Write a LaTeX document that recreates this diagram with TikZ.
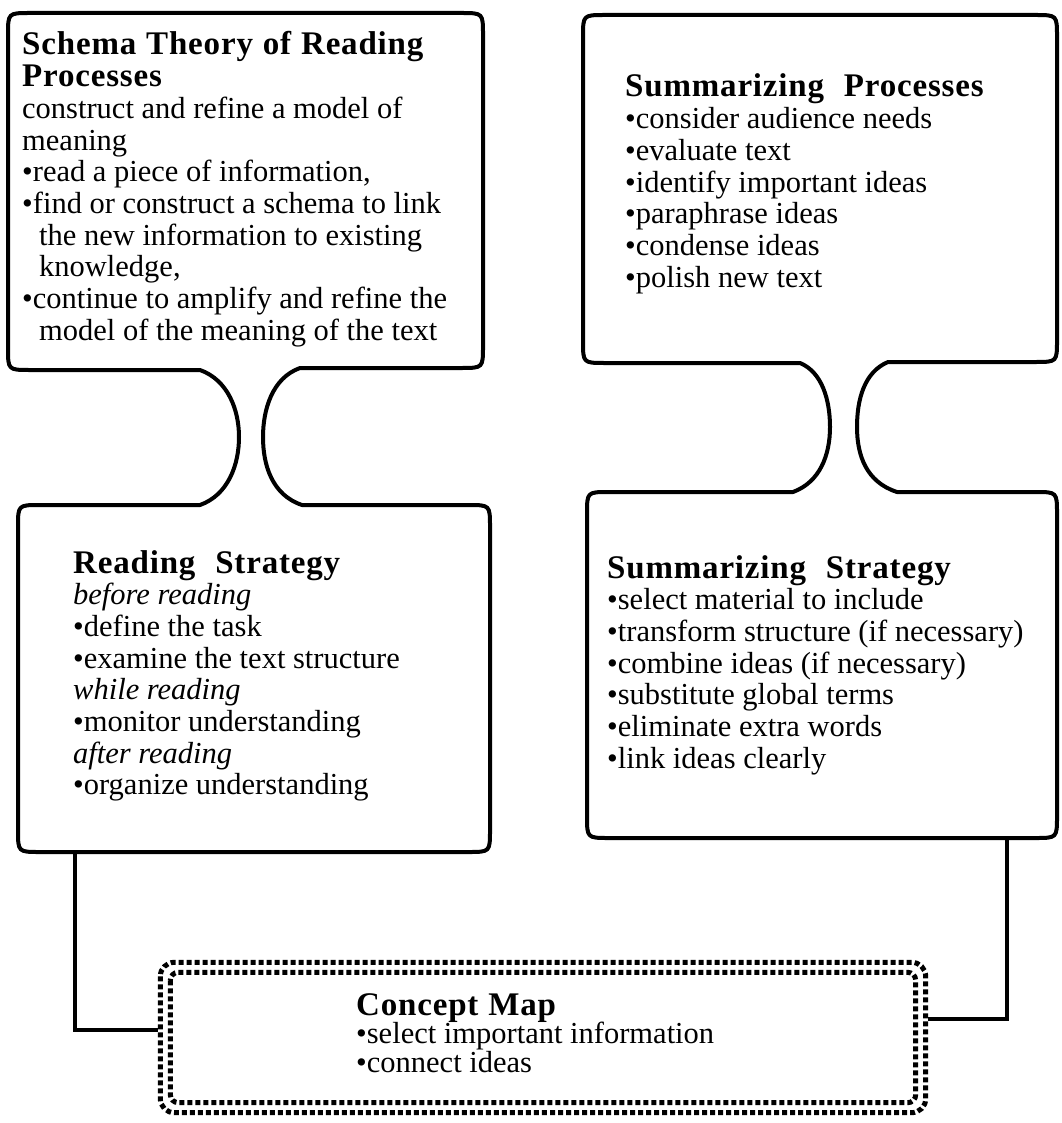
\documentclass[tikz,border=0pt]{standalone}
\usepackage{fontspec}
\setmainfont{Liberation Serif}
\newfontfamily\hfont[LetterSpace=2.5]{Liberation Serif}
\newcommand\bodyfont{\fontsize{30.5}{31.7}\selectfont}
\newcommand\hd[1]{{\hfont\bfseries\fontsize{33}{31.7}\selectfont #1}}
\newcommand\wsp{\hspace{0.3em}}
\begin{document}
\begin{tikzpicture}[x=1pt,y=-1pt,
  outline/.style={draw=black, line width=4pt, line join=round},
  link/.style={draw=black, line width=4pt},
  area/.style={draw=none, inner sep=0pt, rectangle},
  txt/.style={anchor=base west, inner sep=0pt, font=\bodyfont},
  dotrow/.style={draw=black, line width=5pt, dash pattern=on 5pt off 3pt, rounded corners=14pt}
]
\useasboundingbox (0,0) rectangle (1061,1123);
\fill[white] (0,0) rectangle (1061,1123);

% left pair outline (Schema Theory + Reading Strategy)
\draw[outline] (200,370) -- (30,370) .. controls (8,370) .. (8,348) -- (8,35)
  .. controls (8,13) .. (30,13) -- (461,13) .. controls (483,13) .. (483,35)
  -- (483,346) .. controls (483,368) .. (461,368) -- (300,368)
  .. controls (272,378) and (263,410) .. (263,437)
  .. controls (263,465) and (272,495) .. (302,505)
  -- (468,505) .. controls (490,505) .. (490,527) -- (490,830)
  .. controls (490,852) .. (468,852) -- (40,852) .. controls (18,852) .. (18,830)
  -- (18,527) .. controls (18,505) .. (40,505) -- (200,505)
  .. controls (228,495) and (239,465) .. (239,437)
  .. controls (239,410) and (228,380) .. (200,370) -- cycle;

% right pair outline (Summarizing Processes + Summarizing Strategy)
\draw[outline] (800,363) -- (605,363) .. controls (583,363) .. (583,341) -- (583,37)
  .. controls (583,15) .. (605,15) -- (1035,15) .. controls (1057,15) .. (1057,37)
  -- (1057,340) .. controls (1057,362) .. (1035,362) -- (888,362)
  .. controls (864,372) and (857,400) .. (857,427)
  .. controls (857,455) and (866,482) .. (897,492)
  -- (1035,492) .. controls (1057,492) .. (1057,514) -- (1057,816)
  .. controls (1057,838) .. (1035,838) -- (609,838) .. controls (587,838) .. (587,816)
  -- (587,514) .. controls (587,492) .. (609,492) -- (793,492)
  .. controls (820,482) and (830,455) .. (830,427)
  .. controls (830,400) and (822,372) .. (800,363) -- cycle;

% box areas
\node[area, minimum width=475pt, minimum height=357pt] (stbox) at (245.5,191.5) {};
\node[area, minimum width=474pt, minimum height=348pt] (spbox) at (820,189) {};
\node[area, minimum width=472pt, minimum height=347pt] (rsbox) at (254,678.5) {};
\node[area, minimum width=470pt, minimum height=346pt] (ssbox) at (822,665) {};
\node[area, minimum width=770pt, minimum height=155pt] (cm) at (543,1037.5) {};

% concept map dotted border
\draw[dotrow] ([shift={(2.5pt,-2.5pt)}]cm.north west) rectangle ([shift={(-2.5pt,2.5pt)}]cm.south east);
\draw[dotrow, rounded corners=8pt] ([shift={(12.5pt,-12.5pt)}]cm.north west) rectangle ([shift={(-12.5pt,12.5pt)}]cm.south east);

% texts
\node[txt] (schema) at (22,55) {\begin{tabular}[t]{@{}l@{}}
\hd{Schema\wsp Theory\wsp of\wsp Reading}\\
\hd{Processes}\\
construct and refine a model of\\
meaning\\
•read a piece of information,\\
•find or construct a schema to link\\
\hspace*{17pt}the new information to existing\\
\hspace*{17pt}knowledge,\\
•continue to amplify and refine the\\
\hspace*{17pt}model of the meaning of the text
\end{tabular}};

\node[txt] (sumproc) at (625,97) {\begin{tabular}[t]{@{}l@{}}
\hd{Summarizing\wsp\wsp Processes}\\
•consider audience needs\\
•evaluate text\\
•identify important ideas\\
•paraphrase ideas\\
•condense ideas\\
•polish new text
\end{tabular}};

\node[txt] (readstrat) at (73,573) {\begin{tabular}[t]{@{}l@{}}
\hd{Reading\wsp\wsp Strategy}\\
\textit{before reading}\\
•define the task\\
•examine the text structure\\
\textit{while reading}\\
•monitor understanding\\
\textit{after reading}\\
•organize understanding
\end{tabular}};

\node[txt] (sumstrat) at (607,578) {\begin{tabular}[t]{@{}l@{}}
\hd{Summarizing\wsp\wsp Strategy}\\
•select material to include\\
•transform structure (if necessary)\\
•combine ideas (if necessary)\\
•substitute global terms\\
•eliminate extra words\\
•link ideas clearly
\end{tabular}};

\node[txt] (cmtext) at (356,1015) {\begin{tabular}[t]{@{}l@{}}
\hd{Concept\wsp Map}\\[-3pt]
•select important information\\[-3pt]
•connect ideas
\end{tabular}};

% connectors
\draw[link] ([xshift=57pt]rsbox.south west) |- ([yshift=7.5pt]cm.west);
\draw[link] ([xshift=-50pt]ssbox.south east) |- ([yshift=18.5pt]cm.east);
\end{tikzpicture}
\end{document}
